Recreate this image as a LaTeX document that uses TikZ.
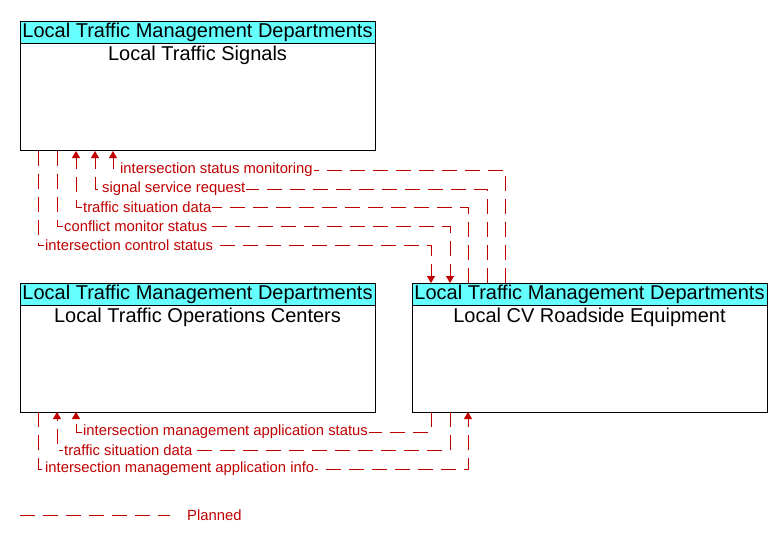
\documentclass[tikz,border=0pt]{standalone}
\usepackage{fontspec}
\setmainfont{Liberation Sans}
\usetikzlibrary{arrows.meta,positioning}
\definecolor{hdrcyan}{RGB}{102,255,255}
\definecolor{flowred}{RGB}{192,0,0}
\tikzset{
  sysbox/.style={draw=black,line width=0.8pt,minimum width=355pt,minimum height=129pt,inner sep=0pt},
  hdrbox/.style={draw=black,fill=hdrcyan,line width=0.8pt,minimum width=355pt,minimum height=22pt,inner sep=0pt,font=\fontsize{20pt}{22pt}\selectfont},
  systitle/.style={inner sep=0pt,font=\fontsize{20pt}{22pt}\selectfont},
  flow/.style={draw=flowred,line width=0.8pt,dash pattern=on 15pt off 8pt},
  flowtip/.style={-{Triangle[width=8pt,length=7pt]}},
  flowlbl/.style={text=flowred,inner sep=1pt,fill=white,font=\fontsize{14.8pt}{16pt}\selectfont}
}
\begin{document}
\begin{tikzpicture}[x=1pt,y=-1pt]
\useasboundingbox (0,0) rectangle (782,541);
% boxes
\node[sysbox] (sig) at (197.5,86) {};
\node[hdrbox,anchor=north] (sighdr) at (sig.north) {\raisebox{-1pt}{Local Traffic Management Departments}};
\node[systitle] (sigtitle) at (197.5,55.5) {Local Traffic Signals};
\node[sysbox] (toc) at (197.5,347.5) {};
\node[hdrbox,anchor=north] (tochdr) at (toc.north) {\raisebox{-1pt}{Local Traffic Management Departments}};
\node[systitle] (toctitle) at (197.5,317.5) {Local Traffic Operations Centers};
\node[sysbox] (rse) at (589.5,347.5) {};
\node[hdrbox,anchor=north] (rsehdr) at (rse.north) {\raisebox{-1pt}{Local Traffic Management Departments}};
\node[systitle] (rsetitle) at (589.5,317.5) {Local CV Roadside Equipment};
% flows between signals and roadside equipment
\draw[flow,flowtip] (505,283) |- (113,170) -- (113,151);
\draw[flow,flowtip] (487,283) |- (95,189) -- (95,151);
\draw[flow,flowtip] (468,283) |- (76,207) -- (76,151);
\draw[flow,flowtip] (57,151) |- (450,226) -- (450,283);
\draw[flow,flowtip] (38,151) |- (431,245) -- (431,283);
\node[flowlbl,anchor=west] (l1) at (119,170) {intersection status monitoring};
\node[flowlbl,anchor=west] (l2) at (101,189) {signal service request};
\node[flowlbl,anchor=west] (l3) at (82,207) {traffic situation data};
\node[flowlbl,anchor=west] (l4) at (63,226) {conflict monitor status};
\node[flowlbl,anchor=west] (l5) at (44,245) {intersection control status};
% flows between operations centers and roadside equipment
\draw[flow,flowtip] (431,412) |- (76,432) -- (76,412);
\draw[flow,flowtip] (450,412) |- (57,450) -- (57,412);
\draw[flow,flowtip] (38,412) |- (468,469) -- (468,412);
\node[flowlbl,anchor=west] (l6) at (82,432) {intersection management application status};
\node[flowlbl,anchor=west] (l7) at (63,450) {traffic situation data};
\node[flowlbl,anchor=west] (l8) at (44,469) {intersection management application info};
% legend
\coordinate (legA) at (20,515);
\coordinate (legB) at (170,515);
\draw[flow] (legA) -- (legB);
\node[flowlbl,anchor=west] (legtxt) at (186,515) {Planned};
\end{tikzpicture}
\end{document}
